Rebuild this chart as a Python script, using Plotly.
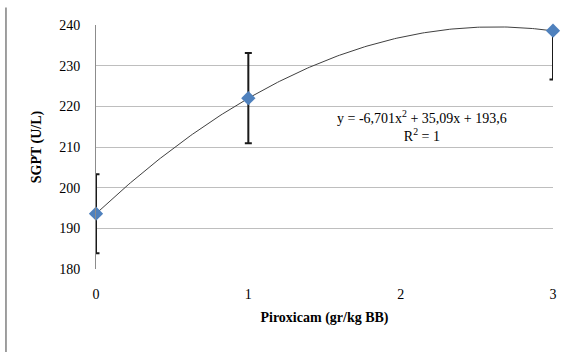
import numpy as np
import plotly.graph_objects as go

# Data
doses = [0, 1, 3]
sgpt_mean = [193.6, 222.0, 238.6]
sgpt_err = [9.7, 11.1, 12.0]
trend_coef = [-6.701, 35.09, 193.6]  # a x^2 + b x + c
y_ticks = [180, 190, 200, 210, 220, 230, 240]
x_ticks = [0, 1, 2, 3]

xs = np.linspace(min(doses), max(doses), 200)
ys = np.polyval(trend_coef, xs)

fig = go.Figure()
fig.add_trace(go.Scatter(x=xs, y=ys, mode="lines",
                         line=dict(color="#404040", width=1), hoverinfo="skip"))
fig.add_trace(go.Scatter(
    x=doses, y=sgpt_mean, mode="markers", cliponaxis=False,
    marker=dict(symbol="diamond", size=11, color="#4F81BD"),
    error_y=dict(type="data", array=sgpt_err, color="#1a1a1a", thickness=2, width=3.5),
))

serif = "Liberation Serif"
fig.update_layout(
    width=567, height=352,
    margin=dict(l=96, r=14, t=25, b=83, autoexpand=False),
    paper_bgcolor="white", plot_bgcolor="white",
    showlegend=False,
    font=dict(family=serif, size=14, color="#000"),
    xaxis=dict(range=[0, 3], tickvals=x_ticks, showgrid=False, zeroline=False,
               showline=False, ticks="", ticklabelstandoff=15, automargin=False,
               title=dict(text="<b>Piroxicam (gr/kg BB)</b>", standoff=11,
                          font=dict(family=serif, size=14))),
    yaxis=dict(range=[180, 240], tickvals=y_ticks, showgrid=True,
               gridcolor="#BEBEBE", gridwidth=1, zeroline=False,
               showline=True, linecolor="#8C8C8C", linewidth=1,
               ticks="", ticklabelstandoff=12, automargin=False,
               title=dict(text="<b>SGPT (U/L)</b>", standoff=14,
                          font=dict(family=serif, size=14))),
    shapes=[
        dict(type="line", xref="paper", yref="y", x0=-0.197, x1=1.1,
             y0=244.3, y1=244.3, line=dict(color="#7F7F7F", width=1.5),
             layer="above"),
        dict(type="line", xref="paper", yref="paper", x0=-0.197, x1=-0.197,
             y0=-0.4, y1=1.072, line=dict(color="#7F7F7F", width=1.5),
             layer="above"),
    ],
    annotations=[
        dict(x=2.14, y=215.2, xref="x", yref="y", showarrow=False,
             text="y = -6,701x<sup>2</sup> + 35,09x + 193,6<br>R<sup>2</sup> = 1",
             font=dict(family=serif, size=14), align="center"),
    ],
)
fig.write_html("out.html", config={"displayModeBar": False},
               post_script="document.body.style.margin='0';document.body.style.padding='0';")
